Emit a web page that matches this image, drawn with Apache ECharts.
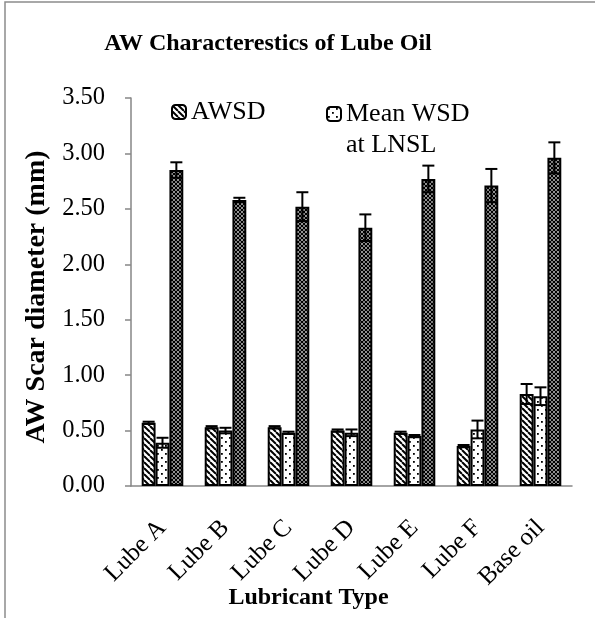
<!DOCTYPE html>
<html><head><meta charset="utf-8">
<script src="https://cdn.jsdelivr.net/npm/echarts@6/dist/echarts.min.js"></script>
<style>html,body{margin:0;padding:0;background:#fff}#c{width:595px;height:618px}</style>
</head><body><div id="c"></div>
<script>
const categories = ['Lube A','Lube B','Lube C','Lube D','Lube E','Lube F','Base oil'];
const awsd = [0.57, 0.53, 0.53, 0.50, 0.48, 0.36, 0.83];
const awsdErr = [0.01, 0.01, 0.01, 0.01, 0.01, 0.01, 0.09];
const meanWsd = [0.39, 0.50, 0.48, 0.48, 0.45, 0.51, 0.81];
const meanWsdErr = [0.045, 0.025, 0.01, 0.03, 0.01, 0.08, 0.08];
const third = [2.85, 2.58, 2.52, 2.33, 2.77, 2.71, 2.96];
const thirdErr = [0.07, 0.02, 0.13, 0.12, 0.12, 0.15, 0.14];
const yTicks = [0, 0.5, 1, 1.5, 2, 2.5, 3, 3.5];

const FONT = '"Liberation Serif", "Times New Roman", serif';
const GAP = 0.34;

function tile(size, draw){
  const c = document.createElement('canvas');
  c.width = size; c.height = size;
  const g = c.getContext('2d');
  g.fillStyle = '#fff'; g.fillRect(0,0,size,size);
  draw(g, size);
  return c;
}
const diagPat = tile(6, (g,s)=>{
  g.strokeStyle='#000'; g.lineWidth=2;
  for (const o of [-s,0,s]) { g.beginPath(); g.moveTo(o,0); g.lineTo(o+s,s); g.stroke(); }
});
const dotPat = tile(8, (g,s)=>{
  g.fillStyle='#000';
  g.fillRect(1,1,1.8,1.8); g.fillRect(5,5,1.8,1.8);
});
const diamondPat = tile(4, (g,s)=>{
  g.strokeStyle='#000'; g.lineWidth=1.3;
  for (const o of [-s,0,s]) {
    g.beginPath(); g.moveTo(o,0); g.lineTo(o+s,s); g.stroke();
    g.beginPath(); g.moveTo(o+s,0); g.lineTo(o,s); g.stroke();
  }
});

function barSeries(name, data, pat){
  return {
    name, type:'bar', data, barGap:'0%', barCategoryGap:(GAP*100)+'%',
    itemStyle:{ color:{image:pat, repeat:'repeat'}, borderColor:'#000', borderWidth:2 },
    emphasis:{disabled:true}, z:2
  };
}
function errSeries(idx, vals, errs){
  return {
    type:'custom', z:5, silent:true,
    data: vals.map((v,i)=>[i, v, errs[i]]),
    renderItem:(params, api)=>{
      const i = api.value(0), v = api.value(1), e = api.value(2);
      const bw = api.size([1,0])[0];
      const barW = bw*(1-GAP)/3;
      const x = api.coord([i, v])[0] + (idx-1)*barW;
      const yt = api.coord([i, v+e])[1], yb = api.coord([i, v-e])[1];
      const h = 6, st = {stroke:'#000', lineWidth:2};
      return {type:'group', children:[
        {type:'line', shape:{x1:x,y1:yt,x2:x,y2:yb}, style:st},
        {type:'line', shape:{x1:x-h,y1:yt,x2:x+h,y2:yt}, style:st},
        {type:'line', shape:{x1:x-h,y1:yb,x2:x+h,y2:yb}, style:st}
      ]};
    }
  };
}

const legendText = {fontFamily:FONT, fontSize:26, color:'#000', lineHeight:26};
const chart = echarts.init(document.getElementById('c'), null, {renderer:'canvas'});
chart.setOption({
  animation:false,
  backgroundColor:'#fff',
  textStyle:{fontFamily:FONT},
  title:{ text:'AW Characterestics of Lube Oil', left:263, top:27, textAlign:'center',
    textStyle:{fontFamily:FONT, fontWeight:'bold', fontSize:24, color:'#000'} },
  legend:[
    { data:['AWSD'], left:171, top:99, padding:0, itemWidth:14, itemHeight:14, itemGap:7,
      selectedMode:false, textStyle:legendText },
    { data:['Mean WSD at LNSL'], left:326, top:101, padding:0, itemWidth:14, itemHeight:14, itemGap:7,
      selectedMode:false, formatter:()=> 'Mean WSD', textStyle:legendText }
  ],
  grid:{ left:131, right:23, top:98, bottom:132, containLabel:false, outerBoundsMode:'none' },
  xAxis:{
    type:'category', data:categories,
    axisLine:{lineStyle:{color:'#868686', width:1.5}},
    axisTick:{show:false},
    axisLabel:{rotate:45, margin:38, fontFamily:FONT, fontSize:25, color:'#000', interval:0},
    name:'Lubricant Type', nameLocation:'middle', nameGap:100, nameMoveOverlap:false,
    nameTextStyle:{fontFamily:FONT, fontWeight:'bold', fontSize:24, color:'#000', padding:[0,86,0,0]}
  },
  yAxis:{
    type:'value', min:yTicks[0], max:yTicks[yTicks.length-1], interval:0.5,
    axisLine:{show:true, lineStyle:{color:'#868686', width:1.5}},
    axisTick:{show:true, length:6, lineStyle:{color:'#868686', width:1.5}},
    splitLine:{show:false},
    axisLabel:{fontFamily:FONT, fontSize:24.5, color:'#000', margin:26, formatter:v=>v.toFixed(2)},
    name:'AW Scar diameter (mm)', nameLocation:'middle', nameGap:77,
    nameTextStyle:{fontFamily:FONT, fontWeight:'bold', fontSize:28, color:'#000', padding:[0,10,0,0]}
  },
  graphic:[
    {type:'rect', shape:{x:5, y:2, width:640, height:680}, style:{fill:'none', stroke:'#8c8c8c', lineWidth:1.5}, silent:true, z:-1},
    {type:'text', x:346, y:145, style:{text:'at LNSL', fontFamily:FONT, fontSize:26, fill:'#000', verticalAlign:'middle', align:'left'}, silent:true}
  ],
  series:[
    barSeries('AWSD', awsd, diagPat),
    barSeries('Mean WSD at LNSL', meanWsd, dotPat),
    barSeries('Series 3', third, diamondPat),
    errSeries(0, awsd, awsdErr),
    errSeries(1, meanWsd, meanWsdErr),
    errSeries(2, third, thirdErr)
  ]
});
</script></body></html>
